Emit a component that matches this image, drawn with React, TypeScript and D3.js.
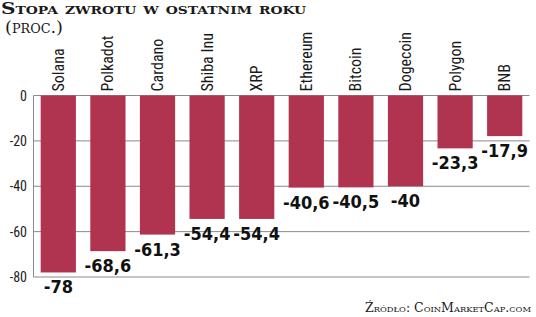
import React from "react";
import * as d3 from "d3";

const categories = ["Solana", "Polkadot", "Cardano", "Shiba Inu", "XRP", "Ethereum", "Bitcoin", "Dogecoin", "Polygon", "BNB"];
const values = [-78, -68.6, -61.3, -54.4, -54.4, -40.6, -40.5, -40, -23.3, -17.9];
const yTicks = [0, -20, -40, -60, -80];
const title = "Stopa zwrotu w ostatnim roku";
const subtitle = "(proc.)";
const source = "Źródło: CoinMarketCap.com";

const W = 536;
const H = 317;
const left = 33.5;
const right = 529.5;
const y0 = 95.5;
const y1 = 277;
const barColor = "#b0334f";
const gridColor = "#8a8a8a";
const narrow = "'Liberation Sans Narrow', 'Roboto Condensed', 'DejaVu Sans Condensed', sans-serif";
const condBold = "'DejaVu Sans Condensed', 'DejaVu Sans', sans-serif";
const serif = "'DejaVu Serif', 'Liberation Serif', serif";

export default function App() {
  const x = d3.scaleBand<string>().domain(categories).range([left, right]).paddingInner(0.29).paddingOuter(0.145);
  const y = d3.scaleLinear().domain([0, -80]).range([y0, y1]);
  const fmt = (v: number) => String(v).replace(".", ",");
  return (
    <svg width={W} height={H} style={{ position: "absolute", left: 0, top: 0 }}>
      <rect width={W} height={H} fill="#fff" />
      <text x={1} y={13.5} fontFamily={serif} fontWeight="bold" fontSize={16} style={{ fontVariant: "small-caps" }} fill="#1a1a1a" textLength={305} lengthAdjust="spacingAndGlyphs">{title}</text>
      <text x={5} y={32.5} fontFamily={serif} fontSize={16.5} style={{ fontVariant: "small-caps" }} fill="#1a1a1a" textLength={58} lengthAdjust="spacingAndGlyphs">{subtitle}</text>
      {yTicks.map((t) => (
        <g key={t}>
          <line x1={left} x2={right} y1={y(t)} y2={y(t)} stroke={gridColor} strokeWidth={1} />
          <text x={27} y={y(t)} dy="0.36em" textAnchor="end" fontFamily={narrow} fontSize={14} fill="#222">{t}</text>
        </g>
      ))}
      <line x1={left} x2={left} y1={y(0)} y2={y(-80)} stroke={gridColor} strokeWidth={1} />
      {categories.map((c, i) => {
        const cx = (x(c) as number) + x.bandwidth() / 2;
        return (
          <g key={c}>
            <rect x={x(c)} y={y(0)} width={x.bandwidth()} height={y(values[i]) - y(0)} fill={barColor} />
            <text transform={`translate(${cx + 5.5},${y0 - 4}) rotate(-90)`} fontFamily={narrow} fontSize={16} fill="#1a1a1a">{c}</text>
            <text x={cx} y={y(values[i]) + 21} textAnchor="middle" fontFamily={condBold} fontWeight="bold" fontSize={18} style={{ fontStretch: "condensed" }} fill="#111">{fmt(values[i])}</text>
          </g>
        );
      })}
      <text x={531} y={312} textAnchor="end" fontFamily={serif} fontSize={12} style={{ fontVariant: "small-caps" }} fill="#1a1a1a" textLength={166} lengthAdjust="spacingAndGlyphs">{source}</text>
    </svg>
  );
}
